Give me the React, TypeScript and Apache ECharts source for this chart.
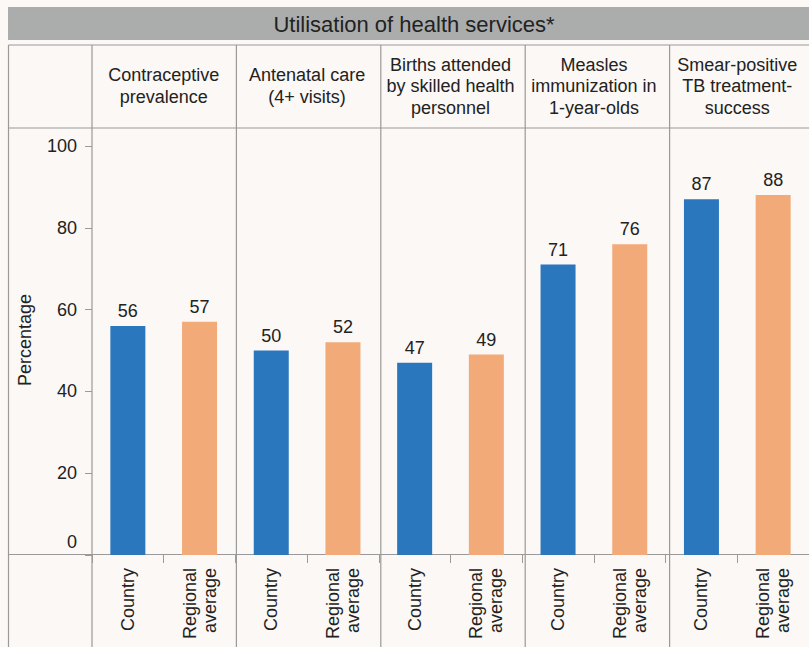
import React, { useEffect, useRef } from "react";
import * as echarts from "echarts";

const TITLE = "Utilisation of health services*";
const INDICATORS = [
  "Contraceptive\nprevalence",
  "Antenatal care\n(4+ visits)",
  "Births attended\nby skilled health\npersonnel",
  "Measles\nimmunization in\n1-year-olds",
  "Smear-positive\nTB treatment-\nsuccess",
];
const GROUPS = ["Country", "Regional\naverage"];
const COUNTRY = [56, 50, 47, 71, 87];
const REGIONAL = [57, 52, 49, 76, 88];
const Y_TICKS = [0, 20, 40, 60, 80, 100];
const Y_NAME = "Percentage";

const FONT = "'Liberation Sans', Arial, sans-serif";
const TEXT = "#222222";
const LINE = "#9a9a9a";
const BLUE = "#2a77bd";
const ORANGE = "#f2aa78";
const BG = "#fbf8f6";

export default function App() {
  const ref = useRef<HTMLDivElement>(null);

  useEffect(() => {
    document.body.style.margin = "0";
    const chart = echarts.init(ref.current!, null, { renderer: "svg" });

    const gridLeft = 92;
    const gridTop = 146;
    const gridWidth = 722;
    const gridHeight = 409;
    const panelW = gridWidth / INDICATORS.length;

    const categories: string[] = [];
    const countryData: (number | string)[] = [];
    const regionalData: (number | string)[] = [];
    INDICATORS.forEach((_, i) => {
      categories.push(GROUPS[0] + "#" + i, GROUPS[1] + "#" + i);
      countryData.push(COUNTRY[i], "-");
      regionalData.push("-", REGIONAL[i]);
    });

    const graphics: any[] = [
      {
        type: "rect",
        shape: { x: 8, y: 7, width: 801, height: 33 },
        style: { fill: "#abadad" },
        silent: true,
      },
      {
        type: "text",
        x: 414,
        y: 24,
        style: {
          text: TITLE,
          font: `22px ${FONT}`,
          fill: TEXT,
          textAlign: "center",
          textVerticalAlign: "middle",
        },
      },
      {
        type: "text",
        x: 25,
        y: 340,
        rotation: Math.PI / 2,
        style: {
          text: Y_NAME,
          font: `18px ${FONT}`,
          fill: TEXT,
          textAlign: "center",
          textVerticalAlign: "middle",
        },
      },
    ];
    const hLines = [45, 128, 554.5];
    hLines.forEach((y) =>
      graphics.push({
        type: "line",
        shape: { x1: 8.5, y1: y, x2: 809, y2: y },
        style: { stroke: LINE, lineWidth: 1.2 },
        silent: true,
      })
    );
    const vx = [8.5];
    for (let k = 0; k <= INDICATORS.length; k++) vx.push(gridLeft + k * panelW);
    vx.forEach((x) =>
      graphics.push({
        type: "line",
        shape: { x1: x, y1: 45, x2: x, y2: 647 },
        style: { stroke: LINE, lineWidth: 1.2 },
        silent: true,
      })
    );

    chart.setOption({
      animation: false,
      backgroundColor: BG,
      textStyle: { fontFamily: FONT },
      grid: { left: gridLeft, top: gridTop, width: gridWidth, height: gridHeight },
      xAxis: [
        {
          type: "category",
          data: categories,
          position: "bottom",
          axisLine: { show: false },
          axisTick: { show: true, length: 8, lineStyle: { color: LINE } },
          axisLabel: {
            interval: 0,
            rotate: 90,
            margin: 13,
            fontSize: 18,
            lineHeight: 20,
            color: TEXT,
            fontFamily: FONT,
            formatter: (v: string) => v.split("#")[0],
          },
        },
        {
          type: "category",
          data: INDICATORS,
          position: "top",
          axisLine: { show: false },
          axisTick: { show: false },
          axisLabel: {
            interval: 0,
            margin: 60,
            fontSize: 18,
            lineHeight: 21.5,
            color: TEXT,
            fontFamily: FONT,
            verticalAlign: "middle",
          },
        },
      ],
      yAxis: {
        type: "value",
        min: Y_TICKS[0],
        max: Y_TICKS[Y_TICKS.length - 1],
        interval: Y_TICKS[1] - Y_TICKS[0],
        axisLine: { show: false },
        axisTick: { show: true, length: 7, lineStyle: { color: LINE } },
        splitLine: { show: false },
        axisLabel: {
          margin: 15,
          fontSize: 18,
          color: TEXT,
          fontFamily: FONT,
          formatter: (v: number) => (v === 0 ? "{z|0}" : String(v)),
          rich: {
            z: { fontSize: 18, color: TEXT, fontFamily: FONT, padding: [0, 0, 26, 0] },
          },
        },
      },
      series: [
        {
          name: GROUPS[0],
          type: "bar",
          data: countryData,
          barWidth: 35,
          barGap: "-100%",
          itemStyle: { color: BLUE },
          label: {
            show: true,
            position: "top",
            distance: 6,
            fontSize: 18,
            color: TEXT,
            fontFamily: FONT,
          },
        },
        {
          name: "Regional average",
          type: "bar",
          data: regionalData,
          barWidth: 35,
          barGap: "-100%",
          itemStyle: { color: ORANGE },
          label: {
            show: true,
            position: "top",
            distance: 6,
            fontSize: 18,
            color: TEXT,
            fontFamily: FONT,
          },
        },
      ],
      graphic: graphics,
    });

    return () => chart.dispose();
  }, []);

  return (
    <div
      ref={ref}
      style={{ position: "absolute", left: 0, top: 0, width: 809, height: 647 }}
    />
  );
}
